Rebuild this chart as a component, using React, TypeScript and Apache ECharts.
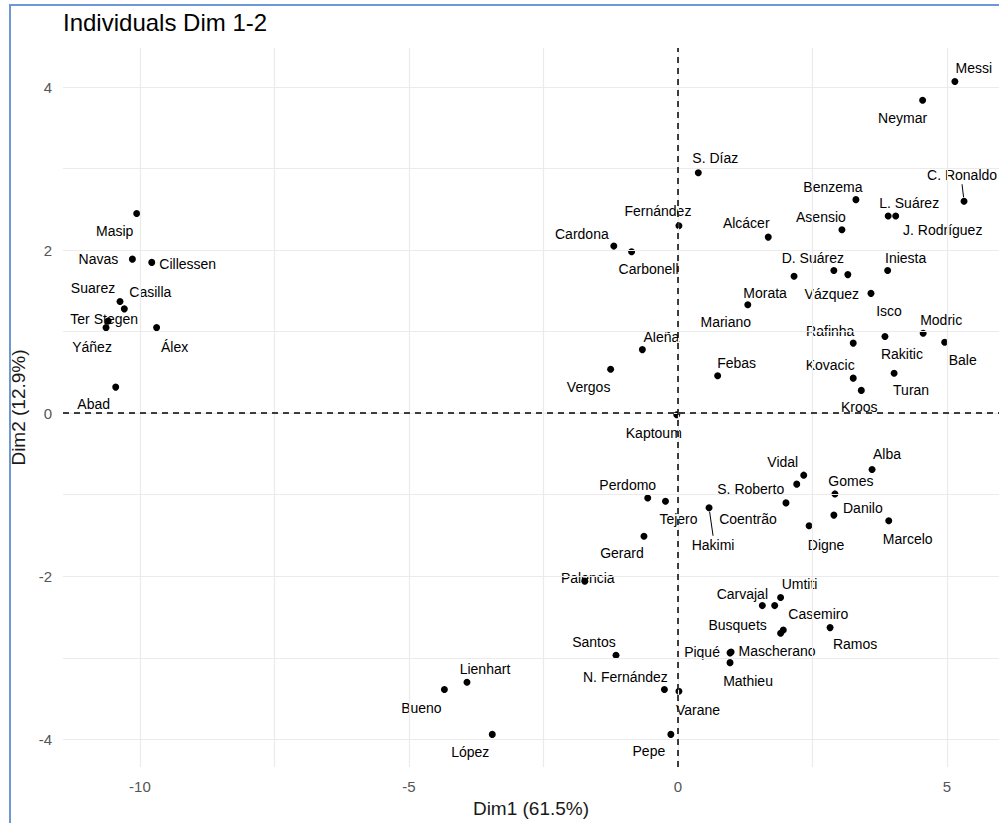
import React, { useEffect, useRef } from "react";
import * as echarts from "echarts";

const players = [
  "Messi", "Neymar", "S. Díaz", "C. Ronaldo", "Benzema", "L. Suárez", "J. Rodríguez", "Asensio",
  "Fernández", "Alcácer", "Cardona", "Carbonell", "Morata", "D. Suárez", "Vázquez", "Iniesta",
  "Isco", "Mariano", "Modric", "Rafinha", "Rakitic", "Bale", "Kovacic", "Turan", "Kroos",
  "Aleña", "Vergos", "Febas", "Kaptoum", "Vidal", "Alba", "S. Roberto", "Coentrão", "Hakimi",
  "Gomes", "Danilo", "Digne", "Marcelo", "Perdomo", "Tejero", "Gerard", "Palencia", "Umtiti",
  "Carvajal", "Nacho", "Casemiro", "Busquets", "Ramos", "Piqué", "Mascherano", "Mathieu",
  "Santos", "Lienhart", "Bueno", "López", "N. Fernández", "Varane", "Pepe", "Masip", "Navas",
  "Cillessen", "Suarez", "Casilla", "Ter Stegen", "Yáñez", "Álex", "Abad",
];

const dim1 = [
  5.15, 4.55, 0.38, 5.32, 3.31, 3.91, 4.05, 3.05,
  0.02, 1.68, -1.19, -0.86, 2.16, 2.9, 3.16, 3.9,
  3.59, 1.3, 4.56, 3.26, 3.85, 4.96, 3.26, 4.02, 3.41,
  -0.66, -1.25, 0.74, -0.02, 2.34, 3.61, 2.21, 2.01, 0.58,
  2.92, 2.9, 2.44, 3.92, -0.56, -0.23, -0.63, -1.73, 1.91,
  1.57, 1.8, 1.96, 1.91, 2.83, 0.97, 0.99, 0.97,
  -1.15, -3.92, -4.34, -3.45, -0.25, 0.02, -0.13, -10.06, -10.14,
  -9.78, -10.37, -10.29, -10.59, -10.63, -9.69, -10.45,
];

const dim2 = [
  4.07, 3.84, 2.95, 2.6, 2.62, 2.42, 2.42, 2.25,
  2.3, 2.16, 2.05, 1.98, 1.68, 1.75, 1.7, 1.75,
  1.47, 1.33, 0.98, 0.86, 0.94, 0.87, 0.43, 0.49, 0.28,
  0.78, 0.54, 0.46, -0.02, -0.76, -0.69, -0.87, -1.1, -1.16,
  -0.99, -1.25, -1.38, -1.32, -1.04, -1.08, -1.51, -2.06, -2.26,
  -2.36, -2.36, -2.66, -2.7, -2.63, -2.94, -2.93, -3.06,
  -2.97, -3.3, -3.39, -3.94, -3.39, -3.41, -3.94, 2.45, 1.89,
  1.85, 1.37, 1.28, 1.13, 1.05, 1.05, 0.32,
];

// label placement (pixel offsets of each label centre from its point)
const labelDx = [
  19, -20, 17, -2, -23, 21, 47, -21,
  -21, -22, -32, 17, -29, -21, -16, 18,
  18, -22, 18, -23, 17, 18, -23, 17, -2,
  19, -22, 19, -23, -21, 15, -46, -38, 4,
  16, 29, 17, 19, -20, 13, -22, 3, 19,
  -20, 0, 35, -43, 25, -28, 46, 18,
  -22, 18, -23, -22, -39, 19, -22, -22, -34,
  36, -27, 26, -4, -14, 18, -22,
];
const labelDy = [
  -13, 18, -15, -26, -13, -13, 14, -13,
  -15, -14, -12, 17, 17, -13, 19, -13,
  18, 17, -13, -12, 17, 18, -13, 17, 17,
  -13, 18, -13, 18, -13, -15, 5, 16, 37,
  -13, -7, 19, 18, -13, 18, 17, -3, -13,
  -12, 0, -16, -8, 16, -1, -1, 18,
  -13, -13, 18, 18, -13, 19, 17, 18, 0,
  2, -14, -17, -2, 19, 19, 17,
];

const leaderLines = ["C. Ronaldo", "Hakimi"];
const unlabeled = ["Nacho"];

const xTicks = [-10, -5, 0, 5];
const yTicks = [-4, -2, 0, 2, 4];
const xGrid = [-10, -7.5, -5, -2.5, 0, 2.5, 5];
const yGrid = [-4, -3, -2, -1, 0, 1, 2, 3, 4];
const xRange = [-11.43, 5.97];
const yRange = [-4.34, 4.48];

export default function App() {
  const ref = useRef<HTMLDivElement>(null);

  useEffect(() => {
    if (!ref.current) return;
    const chart = echarts.init(ref.current, null, { renderer: "svg" });
    const font = "'Liberation Sans', Arial, Helvetica, sans-serif";

    const data = players.map((name, i) => ({
      name,
      value: [dim1[i], dim2[i]],
      label: {
        show: !unlabeled.includes(name),
        offset: [labelDx[i], labelDy[i]],
      },
    }));

    chart.setOption({
      animation: false,
      backgroundColor: "#ffffff",
      title: {
        text: "Individuals Dim 1-2",
        left: 63,
        top: 10,
        padding: 0,
        textStyle: { fontFamily: font, fontSize: 24, fontWeight: "normal", color: "#000" },
      },
      grid: { left: 63, right: 0, top: 48, bottom: 56 },
      xAxis: {
        type: "value",
        min: xRange[0],
        max: xRange[1],
        name: "Dim1 (61.5%)",
        nameLocation: "middle",
        nameGap: 31,
        nameTextStyle: { fontFamily: font, fontSize: 19, color: "#1a1a1a" },
        axisLine: { show: false },
        axisTick: { show: false },
        splitLine: { show: false },
        axisLabel: {
          customValues: xTicks,
          margin: 12,
          color: "#555555",
          fontSize: 15,
          fontFamily: font,
        },
      },
      yAxis: {
        type: "value",
        min: yRange[0],
        max: yRange[1],
        name: "Dim2 (12.9%)",
        nameLocation: "middle",
        nameGap: 27,
        nameTextStyle: { fontFamily: font, fontSize: 19, color: "#1a1a1a" },
        axisLine: { show: false },
        axisTick: { show: false },
        splitLine: { show: false },
        axisLabel: {
          customValues: yTicks,
          margin: 11,
          color: "#555555",
          fontSize: 15,
          fontFamily: font,
        },
      },
      series: [
        {
          type: "scatter",
          data: [],
          silent: true,
          z: 1,
          markLine: {
            silent: true,
            symbol: "none",
            label: { show: false },
            lineStyle: { color: "#ebebeb", width: 1.2, type: "solid" },
            emphasis: { disabled: true },
            data: [
              ...xGrid.map((v) => ({ xAxis: v })),
              ...yGrid.map((v) => ({ yAxis: v })),
            ],
          },
        },
        {
          type: "scatter",
          data: [],
          silent: true,
          z: 2,
          markLine: {
            silent: true,
            symbol: "none",
            label: { show: false },
            lineStyle: { color: "#000", width: 1.5, type: [6, 5] },
            emphasis: { disabled: true },
            data: [{ xAxis: 0 }, { yAxis: 0 }],
          },
        },
        {
          type: "scatter",
          data,
          z: 3,
          symbolSize: 7,
          itemStyle: { color: "#000", opacity: 1 },
          label: {
            show: true,
            position: "inside",
            formatter: "{b}",
            color: "#000",
            fontSize: 14,
            fontFamily: font,
            textBorderWidth: 0,
            textBorderColor: "transparent",
            textShadowBlur: 0,
          },
          emphasis: { disabled: true },
        },
      ],
    });

    const lines: any[] = [];
    leaderLines.forEach((name) => {
      const i = players.indexOf(name);
      const p = chart.convertToPixel({ gridIndex: 0 }, [dim1[i], dim2[i]]) as number[];
      const dx = labelDx[i];
      const dy = labelDy[i];
      const endY = dy > 0 ? dy - 9 : dy + 9;
      const len = Math.hypot(dx, endY) || 1;
      lines.push({
        type: "line",
        silent: true,
        z: 5,
        shape: {
          x1: p[0] + (dx / len) * 4,
          y1: p[1] + (endY / len) * 4,
          x2: p[0] + dx,
          y2: p[1] + endY,
        },
        style: { stroke: "#000", lineWidth: 1 },
      });
    });

    chart.setOption({
      graphic: [
        ...lines,
        { type: "rect", silent: true, shape: { x: 9, y: 4, width: 990, height: 2 }, style: { fill: "#6c98d6" } },
        { type: "rect", silent: true, shape: { x: 9, y: 4, width: 2, height: 819 }, style: { fill: "#6c98d6" } },
      ],
    });

    return () => chart.dispose();
  }, []);

  return (
    <div
      ref={ref}
      style={{ position: "fixed", left: 0, top: 0, width: 999, height: 823, background: "#fff" }}
    />
  );
}
